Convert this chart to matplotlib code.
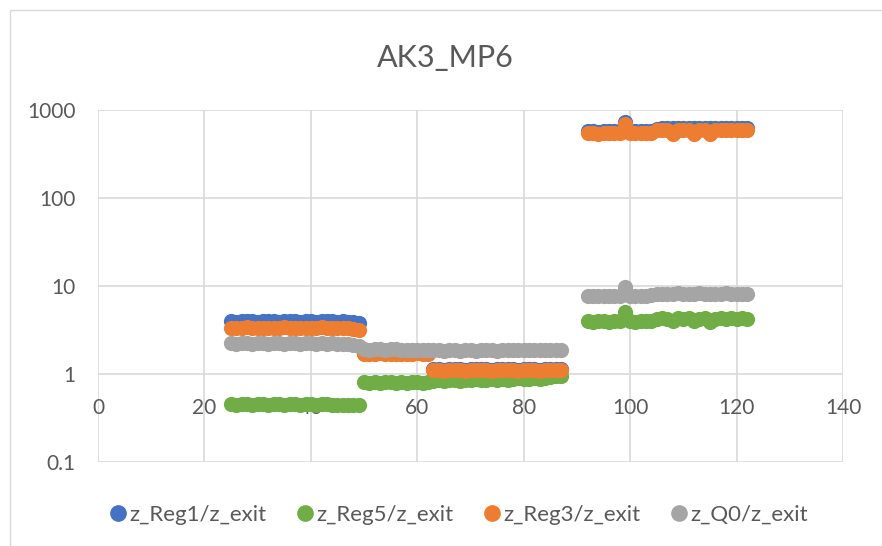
import matplotlib.pyplot as plt
from matplotlib.patches import Rectangle
from matplotlib.lines import Line2D

plt.rcParams['font.family'] = ['Lato', 'DejaVu Sans']

# x positions (shared by all series)
x_a = [25, 26, 27, 28, 29, 30, 31, 32, 33, 34, 35, 36, 37, 38, 39, 40, 41, 42, 43, 44, 45, 46, 47, 48, 49]
x_b = [50, 51, 52, 53, 54, 55, 56, 57, 58, 59, 60, 61, 62, 63, 64, 65, 66, 67, 68, 69, 70, 71, 72, 73, 74,
       75, 76, 77, 78, 79, 80, 81, 82, 83, 84, 85, 86, 87]
x_c = [92, 93, 94, 95, 96, 97, 98, 99, 100, 101, 102, 103, 104, 105, 106, 107, 108, 109, 110, 111, 112, 113,
       114, 115, 116, 117, 118, 119, 120, 121, 122]

reg1 = ([3.95, 3.9, 3.95, 4.0, 3.95, 3.9, 3.95, 4.0, 3.95, 3.9, 3.95, 4.0, 3.95, 3.9, 3.95, 3.95, 3.9, 3.95,
         4.0, 3.95, 3.9, 3.95, 3.9, 3.85, 3.8],
        [1.75, 1.74, 1.75, 1.76, 1.75, 1.74, 1.75, 1.75, 1.74, 1.75, 1.76, 1.75, 1.74, 1.13, 1.13, 1.12, 1.13,
         1.14, 1.13, 1.12, 1.13, 1.13, 1.14, 1.13, 1.12, 1.13, 1.13, 1.14, 1.13, 1.12, 1.13, 1.14, 1.13, 1.12,
         1.13, 1.14, 1.13, 1.13],
        [570, 575, 568, 572, 575, 570, 572, 740, 575, 570, 572, 575, 580, 615, 620, 625, 618, 622, 620, 625,
         618, 622, 620, 625, 620, 618, 622, 620, 625, 620, 618])
reg5 = ([0.46, 0.45, 0.46, 0.46, 0.45, 0.46, 0.46, 0.45, 0.46, 0.46, 0.45, 0.46, 0.46, 0.45, 0.46, 0.46, 0.45,
         0.46, 0.46, 0.45, 0.45, 0.44, 0.44, 0.44, 0.44],
        [0.81, 0.80, 0.81, 0.80, 0.81, 0.81, 0.80, 0.81, 0.80, 0.81, 0.81, 0.80, 0.81, 0.84, 0.85, 0.83, 0.85,
         0.86, 0.84, 0.86, 0.85, 0.87, 0.85, 0.86, 0.87, 0.85, 0.88, 0.86, 0.87, 0.89, 0.87, 0.88, 0.90, 0.88,
         0.91, 0.93, 0.94, 0.96],
        [3.95, 3.9, 3.95, 3.95, 3.9, 3.95, 3.95, 5.0, 3.95, 3.9, 3.95, 3.95, 4.0, 4.25, 4.3, 4.25, 4.0, 4.3,
         4.25, 4.3, 3.95, 4.25, 4.3, 3.9, 4.25, 4.3, 4.25, 4.3, 4.25, 4.3, 4.2])
reg3 = ([3.35, 3.3, 3.35, 3.4, 3.35, 3.3, 3.35, 3.35, 3.3, 3.35, 3.4, 3.35, 3.3, 3.35, 3.35, 3.3, 3.35, 3.4,
         3.35, 3.3, 3.35, 3.3, 3.3, 3.25, 3.2],
        [1.70, 1.69, 1.70, 1.71, 1.70, 1.69, 1.70, 1.70, 1.69, 1.70, 1.71, 1.70, 1.69, 1.10, 1.10, 1.09, 1.10,
         1.11, 1.10, 1.09, 1.10, 1.10, 1.11, 1.10, 1.09, 1.10, 1.10, 1.11, 1.10, 1.09, 1.10, 1.11, 1.10, 1.09,
         1.10, 1.11, 1.10, 1.10],
        [545, 550, 540, 548, 550, 545, 548, 700, 550, 545, 548, 550, 555, 590, 595, 590, 540, 592, 590, 595,
         540, 590, 595, 530, 592, 590, 595, 590, 592, 590, 588])
q0 = ([2.25, 2.2, 2.25, 2.25, 2.2, 2.25, 2.25, 2.2, 2.25, 2.25, 2.2, 2.25, 2.25, 2.2, 2.25, 2.25, 2.2, 2.25,
       2.2, 2.25, 2.2, 2.2, 2.2, 2.15, 2.1],
      [1.90, 1.88, 1.90, 1.92, 1.88, 1.90, 1.92, 1.88, 1.86, 1.88, 1.87, 1.86, 1.85, 1.86, 1.85, 1.84, 1.86,
       1.85, 1.84, 1.85, 1.86, 1.84, 1.85, 1.86, 1.85, 1.84, 1.86, 1.85, 1.86, 1.85, 1.86, 1.87, 1.86, 1.85,
       1.86, 1.87, 1.86, 1.85],
      [7.6, 7.7, 7.6, 7.7, 7.65, 7.6, 7.7, 9.8, 7.7, 7.6, 7.7, 7.7, 7.8, 8.1, 8.2, 8.1, 8.2, 8.3, 8.2, 8.1,
       8.2, 8.3, 8.2, 8.1, 8.2, 8.2, 8.3, 8.2, 8.1, 8.2, 8.2])

series = [('z_Reg1/z_exit', reg1, '#4472C4'),
          ('z_Reg5/z_exit', reg5, '#70AD47'),
          ('z_Reg3/z_exit', reg3, '#ED7D31'),
          ('z_Q0/z_exit', q0, '#A5A5A5')]

x_ticks = [0, 20, 40, 60, 80, 100, 120, 140]
y_ticks = [0.1, 1, 10, 100, 1000]
y_labels = ['0.1', '1', '10', '100', '1000']

text_color = '#595959'
grid_color = '#D9D9D9'

fig = plt.figure(figsize=(8.82, 5.46), dpi=100)
fig.patches.append(Rectangle((10 / 882, -0.1), 2, 1 - 10 / 546 + 0.1, transform=fig.transFigure,
                             fill=False, edgecolor=grid_color, linewidth=1))

ax = fig.add_axes([98 / 882, 1 - 462 / 546, (843 - 98) / 882, (462 - 110) / 546])
ax.set_yscale('log')
ax.set_xlim(0, 140)
ax.set_ylim(0.1, 1000)

x_all = x_a + x_b + x_c
for name, parts, color in series:
    y_all = parts[0] + parts[1] + parts[2]
    ax.scatter(x_all, y_all, s=120, color=color, linewidths=0, label=name, zorder=3)

ax.set_xticks(x_ticks)
ax.set_yticks(y_ticks)
ax.set_yticklabels(y_labels)
ax.minorticks_off()
ax.grid(True, color=grid_color, linewidth=1.2)
ax.set_axisbelow(True)
for s in ['top', 'right', 'left']:
    ax.spines[s].set_visible(False)
ax.spines['bottom'].set_position(('data', 1))
ax.spines['bottom'].set_color('none')
ax.tick_params(axis='x', length=0, pad=17, labelsize=15, labelcolor=text_color)
ax.tick_params(axis='y', length=0, pad=16, labelsize=15, labelcolor=text_color)

fig.text(445 / 882, 1 - 58 / 546, 'AK3_MP6', ha='center', va='center', fontsize=22, color=text_color)

handles = [Line2D([], [], linestyle='none', marker='o', markersize=11, color=c) for _, _, c in series]
fig.legend(handles, [n for n, _, _ in series], loc='center', bbox_to_anchor=(458 / 882, 1 - 515 / 546),
           ncol=4, frameon=False, fontsize=16, labelcolor=text_color, handletextpad=0.05,
           columnspacing=1.3, handlelength=0.9)

fig.savefig('out.png', dpi=100)
